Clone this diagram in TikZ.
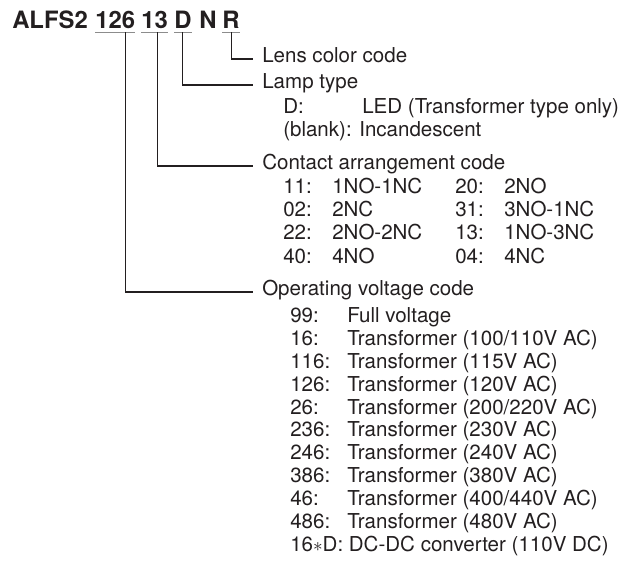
\documentclass[tikz,border=0pt]{standalone}
\usepackage{fontspec}
\setmainfont{TeX Gyre Heros}
\usetikzlibrary{calc}
\definecolor{TxtClr}{HTML}{231F20}
\definecolor{ULineClr}{HTML}{8C8C8C}

\tikzset{
  part/.style={font=\fontsize{17.9}{21}\selectfont\bfseries, inner xsep=0pt,
    inner ysep=3pt, anchor=base west, text=TxtClr},
  head/.style={font=\fontsize{15.4}{18}\selectfont, inner xsep=6.75pt,
    inner ysep=0pt, text height=0.72em, text depth=0.2em, anchor=west,
    text=TxtClr},
  item/.style={font=\fontsize{15.4}{18}\selectfont, inner sep=0pt,
    text height=0.72em, text depth=0.2em, anchor=west, text=TxtClr},
  uline/.style={draw=ULineClr, line width=1pt},
  lead/.style={draw=TxtClr, line width=0.9pt},
}

\begin{document}
\begin{tikzpicture}[x=0.75pt,y=-0.75pt]
\useasboundingbox (0,0) rectangle (643,569);

% model number
\node[part] (base) at (12,28) {ALFS2};
\node[part] (volt) at (95,28) {126};
\node[part] (cont) at (141,28) {13};
\node[part] (lamp) at (174,28) {D};
\node[part] (nn)   at (199,28) {N};
\node[part] (lens) at (222,28) {R};

\draw[uline] (volt.south west) -- (volt.south east);
\draw[uline] (cont.south west) -- (cont.south east);
\draw[uline] (lamp.south west) -- (lamp.south east);
\draw[uline] (lens.south west) -- (lens.south east);

% headings
\node[head] (lenshd) at (253,59)  {Lens color code};
\node[head] (lamphd) at (253,85)  {Lamp type};
\node[head] (conthd) at (253,166) {Contact arrangement code};
\node[head] (volthd) at (253,292) {Operating voltage code};

% leaders
\draw[lead] ($(lens.south west)!0.55!(lens.south east)$) |- (lenshd.west);
\draw[lead] (lamp.south) |- (lamphd.west);
\draw[lead] ($(cont.south west)!0.6!(cont.south east)$) |- (conthd.west);
\draw[lead] ($(volt.south west)!0.75!(volt.south east)$) |- (volthd.west);

% lamp type
\node[item] (ld1) at (283,110) {D:};
\node[item] (lv1) at (362,110) {LED (Transformer type only)};
\node[item] (ld2) at (283,133) {(blank): Incandescent};

% contact arrangement
\foreach \c/\v/\d/\w [count=\i] in {11/1NO-1NC/20/2NO, 02/2NC/31/3NO-1NC,
    22/2NO-2NC/13/1NO-3NC, 40/4NO/04/4NC} {
  \node[item] (cc\i) at (283,166.5+23.3*\i) {\c:};
  \node[item] (cv\i) at (332,166.5+23.3*\i) {\v};
  \node[item] (cd\i) at (455,166.5+23.3*\i) {\d:};
  \node[item] (cw\i) at (504,166.5+23.3*\i) {\w};
}

% operating voltage
\foreach \c/\v [count=\i] in {99/{Full voltage},
    16/{Transformer (100/110V AC)}, 116/{Transformer (115V AC)},
    126/{Transformer (120V AC)}, 26/{Transformer (200/220V AC)},
    236/{Transformer (230V AC)}, 246/{Transformer (240V AC)},
    386/{Transformer (380V AC)}, 46/{Transformer (400/440V AC)},
    486/{Transformer (480V AC)}} {
  \node[item] (vc\i) at (290,296.1+22.9*\i) {\c:};
  \node[item] (vv\i) at (347,296.1+22.9*\i) {\v};
}
\node[item] (vc11) at (290,548) {16$\ast$D: DC-DC converter (110V DC)};

\end{tikzpicture}
\end{document}
